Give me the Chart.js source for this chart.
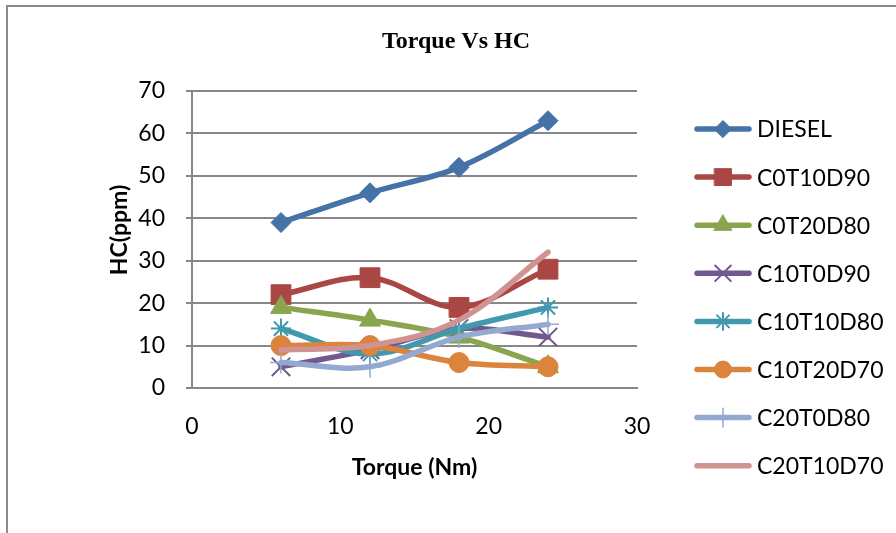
<!DOCTYPE html>
<html>
<head>
<meta charset="utf-8">
<title>Torque Vs HC</title>
<script src="https://cdn.jsdelivr.net/npm/chart.js@4.4.1/dist/chart.umd.min.js"></script>
<style>
  html, body { margin: 0; padding: 0; background: #fff; }
  #wrap { width: 896px; height: 533px; }
</style>
</head>
<body>
<div id="wrap"><canvas id="chart" width="896" height="533"></canvas></div>
<script>
// torque values (Nm) on the x axis
const torque = [6, 12, 18, 24];

// HC (ppm) per blend
const diesel = [39, 46, 52, 63];
const c0t10d90 = [22, 26, 19, 28];
const c0t20d80 = [19, 16, 12, 5];
const c10t0d90 = [5, 9, 14, 12];
const c10t10d80 = [14, 8, 14, 19];
const c10t20d70 = [10, 10, 6, 5];
const c20t0d80 = [6, 5, 12, 15];
const c20t10d70 = [9, 10, 16, 32];

const seriesNames = ['DIESEL', 'C0T10D90', 'C0T20D80', 'C10T0D90', 'C10T10D80', 'C10T20D70', 'C20T0D80', 'C20T10D70'];
const seriesValues = [diesel, c0t10d90, c0t20d80, c10t0d90, c10t10d80, c10t20d70, c20t0d80, c20t10d70];
const seriesColors = ['#4572A7', '#AA4643', '#89A54E', '#71588F', '#4198AF', '#DB843D', '#93A9CF', '#D19392'];

// marker look for each series (Excel style markers)
const markers = [
  {style: 'rectRot', radius: 10, border: 1},
  {style: 'rect', radius: 14, border: 1},
  {style: 'triangle', radius: 12, border: 1},
  {style: 'crossRot', radius: 13, border: 2},
  {style: 'star', radius: 10, border: 2},
  {style: 'circle', radius: 10, border: 1},
  {style: 'cross', radius: 11, border: 1.5},
  {style: false, radius: 0, border: 0},
];

const yTicks = [0, 10, 20, 30, 40, 50, 60, 70];
const xTicks = [0, 10, 20, 30];

const gridColor = '#878787';
const tickFont = {family: 'Lato', size: 23};

const datasets = seriesNames.map((name, i) => ({
  label: name,
  data: torque.map((t, j) => ({x: t, y: seriesValues[i][j]})),
  borderColor: seriesColors[i],
  backgroundColor: seriesColors[i],
  borderWidth: 5.5,
  borderCapStyle: 'round',
  showLine: true,
  tension: 0.35,
  pointStyle: markers[i].style,
  pointRadius: markers[i].radius,
  pointHoverRadius: markers[i].radius,
  pointBorderWidth: markers[i].border,
  order: seriesNames.length - i, // later series drawn on top, like Excel
}));

/** Draws the outer frame, chart title, y axis title and the legend */
const decorations = {
  id: 'decorations',
  beforeDraw(chart) {
    const ctx = chart.ctx;
    ctx.save();
    ctx.fillStyle = '#fff';
    ctx.fillRect(0, 0, chart.width, chart.height);
    ctx.strokeStyle = '#8c8c8c';
    ctx.lineWidth = 2;
    ctx.beginPath();
    ctx.moveTo(7, chart.height);
    ctx.lineTo(7, 6);
    ctx.lineTo(chart.width, 6);
    ctx.stroke();
    ctx.restore();
  },
  afterDraw(chart) {
    const ctx = chart.ctx;
    ctx.save();
    ctx.fillStyle = '#000';
    ctx.textBaseline = 'middle';

    // title
    ctx.font = 'bold 24px "Liberation Serif", "Times New Roman", serif';
    ctx.textAlign = 'center';
    ctx.fillText('Torque Vs HC', 456, 42);

    // y axis title
    ctx.save();
    ctx.translate(120, 230);
    ctx.rotate(-Math.PI / 2);
    ctx.font = 'bold 23px Lato, sans-serif';
    ctx.fillText('HC(ppm)', 0, 0);
    ctx.restore();

    // legend: line with marker, then the name
    ctx.textAlign = 'left';
    ctx.font = '23px Lato, sans-serif';
    chart.data.datasets.forEach((ds, i) => {
      const y = 129 + i * 48.1;
      ctx.strokeStyle = ds.borderColor;
      ctx.lineWidth = 5.5;
      ctx.lineCap = 'round';
      ctx.beginPath();
      ctx.moveTo(697, y);
      ctx.lineTo(749, y);
      ctx.stroke();
      if (ds.pointStyle) {
        ctx.fillStyle = ds.backgroundColor;
        ctx.strokeStyle = ds.borderColor;
        ctx.lineWidth = ds.pointBorderWidth;
        Chart.helpers.drawPoint(ctx, {
          pointStyle: ds.pointStyle,
          radius: ds.pointRadius * 0.85,
          rotation: 0,
          borderWidth: ds.pointBorderWidth,
        }, 723, y);
      }
      ctx.fillStyle = '#000';
      ctx.fillText(ds.label, 757, y + 1);
    });
    ctx.restore();
  },
};

new Chart(document.getElementById('chart'), {
  type: 'scatter',
  data: {datasets: datasets},
  options: {
    responsive: false,
    animation: false,
    layout: {padding: {top: 91, right: 259, left: 0, bottom: 0}},
    plugins: {
      legend: {display: false},
      title: {display: false},
      tooltip: {enabled: false},
    },
    scales: {
      x: {
        type: 'linear',
        min: 0,
        max: 30,
        afterBuildTicks: (scale) => { scale.ticks = xTicks.map(v => ({value: v})); },
        afterFit: (scale) => { scale.height = 145; },
        grid: {display: false, drawTicks: false},
        border: {display: true, color: gridColor, width: 2},
        ticks: {color: '#000', font: tickFont, padding: 25, maxRotation: 0},
        title: {
          display: true,
          text: 'Torque (Nm)',
          color: '#000',
          font: {family: 'Lato', size: 23, weight: 'bold'},
          padding: {top: 0, bottom: 52},
        },
      },
      y: {
        type: 'linear',
        min: 0,
        max: 70,
        afterBuildTicks: (scale) => { scale.ticks = yTicks.map(v => ({value: v})); },
        afterFit: (scale) => { scale.width = 192; },
        grid: {color: gridColor, lineWidth: 2, tickLength: 6, drawTicks: true},
        border: {display: true, color: gridColor, width: 2},
        ticks: {color: '#000', font: tickFont, padding: 21},
      },
    },
  },
  plugins: [decorations],
});
</script>
</body>
</html>
